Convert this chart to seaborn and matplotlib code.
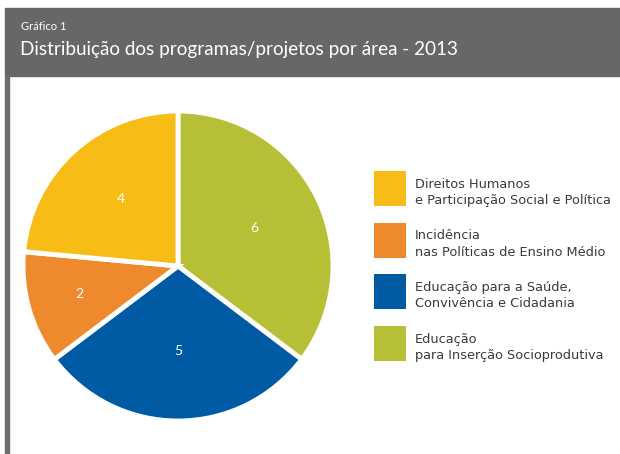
import matplotlib
matplotlib.use("Agg")
import matplotlib.pyplot as plt
import seaborn as sns
from matplotlib.patches import Rectangle
from matplotlib.legend_handler import HandlerPatch

sns.set_style("white")
plt.rcParams['font.family'] = ['Lato', 'DejaVu Sans']

# ---- data ----
categories = [
    "Educação\npara Inserção Socioprodutiva",
    "Educação para a Saúde,\nConvivência e Cidadania",
    "Incidência\nnas Políticas de Ensino Médio",
    "Direitos Humanos\ne Participação Social e Política",
]
values = [6, 5, 2, 4]
colors = ["#B7BF36", "#005BA4", "#EF892D", "#F8BC17"]
legend_order = [3, 2, 1, 0]

supertitle = "Gráfico 1"
title = "Distribuição dos programas/projetos por área - 2013"

W, H = 620, 454
PX = 72 / 100  # points per pixel
fig = plt.figure(figsize=(W / 100, H / 100), dpi=100)

# header band and left border
fig.patches.append(Rectangle((5 / W, 1 - 76 / H), 615 / W, 68 / H,
                             transform=fig.transFigure, color="#666766", zorder=0))
fig.patches.append(Rectangle((5 / W, 0), 4 / W, 1 - 76 / H,
                             transform=fig.transFigure, color="#6d6d6d", zorder=0))
fig.text(21 / W, 1 - 26 / H, supertitle, color="white", fontsize=8, va="center", ha="left")
fig.text(20 / W, 1 - 50 / H, title, color="white", fontsize=13.6, va="center", ha="left")

# pie
ax = fig.add_axes([23 / W, 1 - 421 / H, 310 / W, 310 / H])
total = sum(values)
wedges, texts, autotexts = ax.pie(
    values, colors=colors, startangle=90, counterclock=False,
    autopct=lambda p: f"{round(p * total / 100)}", pctdistance=0.55,
    wedgeprops=dict(edgecolor="white", linewidth=3.5),
    textprops=dict(color="white", fontsize=10),
)
x, y = autotexts[2].get_position()
autotexts[2].set_position((x * 1.2, y * 1.2))
x, y = autotexts[3].get_position()
autotexts[3].set_position((x, y * 1.06))
ax.set_xlim(-1.0, 1.0)
ax.set_ylim(-1.0, 1.0)
ax.set_aspect("equal")
ax.axis("off")

# legend geometry (in pixels -> points)
SQ_W, SQ_H = 32 * PX, 35 * PX
ROW = 51.7 * PX
SHIFT = 2.5 * PX
LF = 9.3
D = 0.35 * (ROW - 0.7 * LF) / 0.65
HH = (ROW + D) / LF


class SquareHandler(HandlerPatch):
    def create_artists(self, legend, orig_handle, xdescent, ydescent,
                       width, height, fontsize, trans):
        r = Rectangle((-xdescent, height - ydescent - SQ_H - SHIFT), SQ_W, SQ_H,
                      facecolor=orig_handle.get_facecolor(), edgecolor="none",
                      transform=trans)
        return [r]


leg = ax.legend(
    [wedges[i] for i in legend_order], [categories[i] for i in legend_order],
    loc="upper left", bbox_to_anchor=(374 / W, 1 - 168.5 / H),
    bbox_transform=fig.transFigure, frameon=False, borderpad=0,
    handlelength=SQ_W / LF, handleheight=HH,
    handletextpad=9 * PX / LF, labelspacing=0.0,
    prop=dict(family="DejaVu Sans", size=LF), borderaxespad=0,
    handler_map={type(wedges[0]): SquareHandler()},
)
for t in leg.get_texts():
    t.set_color("#3a3a3a")
    t.set_linespacing(1.32)

fig.savefig("out.png", dpi=100)
